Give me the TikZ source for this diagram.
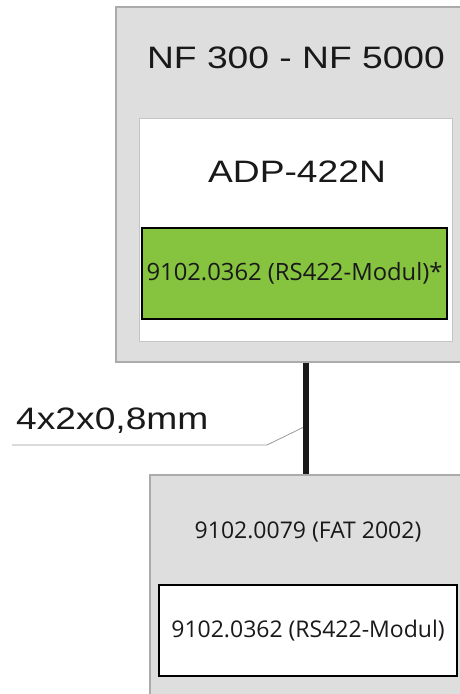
\documentclass[tikz,border=0pt]{standalone}
\usepackage{fontspec}
\setmainfont{Liberation Sans}
\newfontfamily\segoe{Open Sans}
\usepackage{graphicx}
\usetikzlibrary{calc}
\definecolor{panelgray}{HTML}{DEDEDE}
\definecolor{panelline}{HTML}{ABABAB}
\definecolor{cardline}{HTML}{C4C4C4}
\definecolor{modulgreen}{HTML}{86C440}
\newcommand{\hstretch}[1]{\scalebox{1.2}[1]{#1}}

\begin{document}
\begin{tikzpicture}[x=1pt,y=-1pt,
  big/.style={font=\fontsize{31}{36}\selectfont,text=black!90,inner sep=0pt},
  small/.style={font=\segoe\fontsize{23}{27}\selectfont,text=black!90,inner sep=0pt},
  panel/.style={draw=panelline,fill=panelgray,line width=1.2pt,inner sep=0pt},
  card/.style={draw=cardline,fill=white,line width=1pt,inner sep=0pt},
  modul/.style={small,draw=black,line width=1.2pt},
  cable/.style={draw=black!90,line width=6pt},
  leader/.style={draw=black!40,line width=0.8pt}
]
\useasboundingbox (0,0) rectangle (460,694);
\clip (0,0) rectangle (460,694);
\node[panel,minimum width=380pt,minimum height=355pt] (nf) at (306,184.5) {};
\node[big] (nft) at (296,58) {\hstretch{NF 300 - NF 5000}};
\node[card,minimum width=313pt,minimum height=223pt] (adp) at (295.5,229.5) {};
\node[big] (adpt) at (297,172) {\hstretch{ADP-422N}};
\node[modul,fill=modulgreen,minimum width=305pt,minimum height=91pt,font=\segoe\fontsize{23.8}{28}\selectfont] (rsa) at (294.5,273.5) {9102.0362 (RS422-Modul)*};

\node[panel,minimum width=312pt,minimum height=260pt] (fat) at (306,605) {};
\node[small] (fatt) at (308,532) {9102.0079 (FAT 2002)};
\node[modul,fill=white,minimum width=298pt,minimum height=91pt] (rsb) at (308,630.5) {9102.0362 (RS422-Modul)};

\draw[cable] (nf.south) -- (fat.north);
\coordinate (tap) at ($(nf.south)!0.58!(fat.north)+(-3,0)$);
\coordinate (lend) at (12,445);
\draw[leader] (tap) -- (267,445) -- (lend);
\node[big,anchor=west] (cbl) at (16,421) {\hstretch{4x2x0,8mm}};
\end{tikzpicture}
\end{document}
